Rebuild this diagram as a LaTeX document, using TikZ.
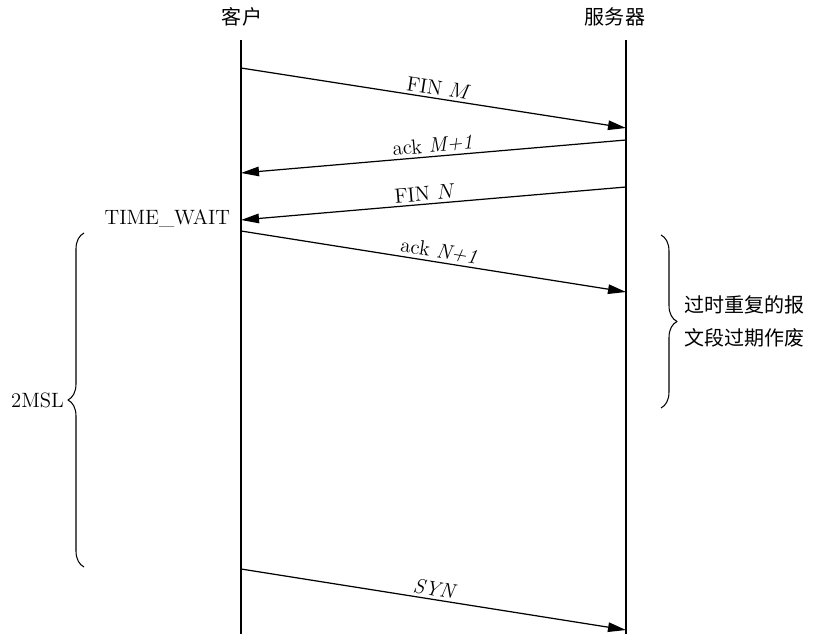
\documentclass[tikz,border=0pt]{standalone}
\usepackage{fontspec}
\newfontfamily\cjk{Noto Sans CJK SC}
\usetikzlibrary{arrows.meta,decorations.pathreplacing}

\begin{document}
\begin{tikzpicture}[x=0.02cm,y=-0.02cm,>={Triangle[length=0.36cm,width=0.19cm]},line join=round,
  msg/.style={line width=0.7pt},
  lbl/.style={font=\fontsize{11.8}{14}\selectfont,inner sep=1.5pt},
  zh/.style={font=\fontsize{11.4}{18.5}\selectfont\cjk,inner sep=1pt},
  brc/.style={line width=0.6pt,decorate,decoration={brace,amplitude=0.32cm}}]
  \useasboundingbox (0,0) rectangle (822,638);
  % lifelines
  \node[zh] (client) at (242,17) {客户};
  \node[zh] (server) at (615,17) {服务器};
  \coordinate (CT) at (241,40);
  \coordinate (CB) at (241,634);
  \coordinate (ST) at (626,40);
  \coordinate (SB) at (626,634);
  \draw[msg] (CT) -- (CB);
  \draw[msg] (ST) -- (SB);
  % message end points
  \coordinate (C1) at (241,68);
  \coordinate (S1) at (626,128);
  \coordinate (C2) at (241,173);
  \coordinate (S2) at (626,140);
  \coordinate (C3) at (241,220);
  \coordinate (S3) at (626,187);
  \coordinate (C4) at (241,231);
  \coordinate (S4) at (626,292);
  \coordinate (C5) at (241,569);
  \coordinate (S5) at (626,630);
  \draw[msg,->] (C1) -- node[lbl,above,sloped,pos=0.51] (finm) {FIN $M$} (S1);
  \draw[msg,<-] (C2) -- node[lbl,above,sloped,pos=0.5] (ackm) {ack \textit{M+1}} (S2);
  \draw[msg,<-] (C3) -- node[lbl,above,sloped,pos=0.48] (finn) {FIN $N$} (S3);
  \draw[msg,->] (C4) -- node[lbl,above,sloped,pos=0.51] (ackn) {ack \textit{N+1}} (S4);
  \draw[msg,->] (C5) -- node[lbl,above,sloped,pos=0.5] (syn) {\textit{SYN}} (S5);
  % states and braces
  \node[lbl,anchor=east] (tw) at (233,219) {TIME\_WAIT};
  \draw[brc] (84,567) -- node[lbl,left=0.34cm] (msl) {2MSL} (84,233);
  \draw[brc] (661,235) -- node[zh,right=0.42cm,align=left] (obs) {过时重复的报\\文段过期作废} (661,408);
\end{tikzpicture}
\end{document}
